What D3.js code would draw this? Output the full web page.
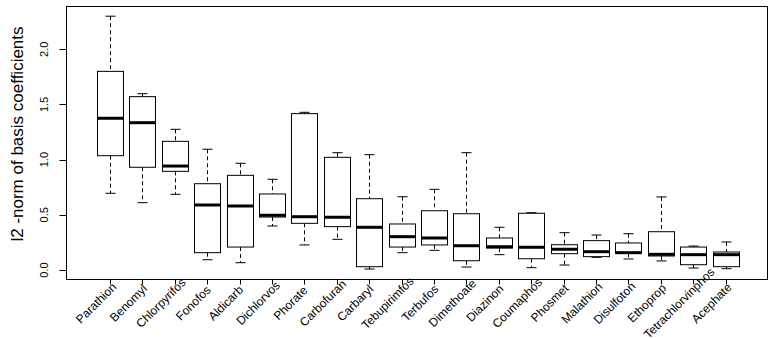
<!DOCTYPE html>
<html>
<head>
    <title>Boxplot</title>
    <script src="https://cdn.jsdelivr.net/npm/d3@7" type="text/javascript"></script>
    <style type="text/css">
        body { margin: 0; background: #fff; }
        text { font-family: "Liberation Sans", Arial, sans-serif; }
    </style>
</head>
<body>
<div id="chart"></div>
<script type="text/javascript">
    // data
    var categories = ["Parathion", "Benomyl", "Chlorpyrifos", "Fonofos", "Aldicarb", "Dichlorvos",
        "Phorate", "Carbofuran", "Carbaryl", "Tebupirimfos", "Terbufos", "Dimethoate", "Diazinon",
        "Coumaphos", "Phosmet", "Malathion", "Disulfoton", "Ethoprop", "Tetrachlorvinphos", "Acephate"];
    var lowerWhisker = [0.695, 0.61, 0.686, 0.093, 0.066, 0.399, 0.227, 0.278, 0.009, 0.157,
        0.178, 0.027, 0.139, 0.021, 0.045, 0.115, 0.10, 0.082, 0.018, 0.012];
    var q1 = [1.036, 0.931, 0.894, 0.157, 0.208, 0.48, 0.423, 0.393, 0.03, 0.208,
        0.227, 0.084, 0.199, 0.102, 0.148, 0.121, 0.151, 0.127, 0.048, 0.03];
    var median = [1.375, 1.335, 0.942, 0.589, 0.58, 0.496, 0.483, 0.478, 0.387, 0.302,
        0.29, 0.22, 0.211, 0.206, 0.188, 0.166, 0.157, 0.142, 0.139, 0.139];
    var q3 = [1.80, 1.571, 1.166, 0.782, 0.858, 0.689, 1.417, 1.021, 0.646, 0.417,
        0.537, 0.51, 0.29, 0.514, 0.229, 0.266, 0.245, 0.347, 0.208, 0.163];
    var upperWhisker = [2.30, 1.598, 1.275, 1.094, 0.967, 0.822, 1.429, 1.063, 1.045, 0.664,
        0.731, 1.063, 0.387, 0.519, 0.338, 0.317, 0.329, 0.662, 0.217, 0.254];
    var yTicks = [0, 0.5, 1.0, 1.5, 2.0];

    var rows = categories.map(function(c, i) {
        return {name: c, lo: lowerWhisker[i], q1: q1[i], med: median[i], q3: q3[i], hi: upperWhisker[i]};
    });

    var width = 776, height = 338;
    var frame = {left: 66.5, right: 767.5, top: 6.5, bottom: 279.5};

    var svg = d3.select('#chart').append('svg')
        .attr('width', width)
        .attr('height', height);

    var x = d3.scalePoint().domain(categories).range([110, 725.5]);
    var y = d3.scaleLinear().domain([0, 2]).range([270, 49.3]);
    var boxW = 26, capW = 10;

    // plot frame
    svg.append('rect')
        .attr('x', frame.left).attr('y', frame.top)
        .attr('width', frame.right - frame.left).attr('height', frame.bottom - frame.top)
        .attr('fill', 'none').attr('stroke', '#000').attr('stroke-width', 1);

    var g = svg.selectAll('g.box').data(rows).enter().append('g')
        .attr('class', 'box')
        .attr('transform', function(d) { return 'translate(' + Math.round(x(d.name)) + ',0)'; });

    // whiskers (dashed)
    g.append('line')
        .attr('x1', 0.5).attr('x2', 0.5)
        .attr('y1', function(d) { return y(d.hi); }).attr('y2', function(d) { return y(d.q3); })
        .attr('stroke', '#000').attr('stroke-dasharray', '4,3');
    g.append('line')
        .attr('x1', 0.5).attr('x2', 0.5)
        .attr('y1', function(d) { return y(d.q1); }).attr('y2', function(d) { return y(d.lo); })
        .attr('stroke', '#000').attr('stroke-dasharray', '4,3');
    // caps
    g.append('line')
        .attr('x1', -capW / 2 + 0.5).attr('x2', capW / 2 + 0.5)
        .attr('y1', function(d) { return y(d.hi); }).attr('y2', function(d) { return y(d.hi); })
        .attr('stroke', '#000');
    g.append('line')
        .attr('x1', -capW / 2 + 0.5).attr('x2', capW / 2 + 0.5)
        .attr('y1', function(d) { return y(d.lo); }).attr('y2', function(d) { return y(d.lo); })
        .attr('stroke', '#000');
    // box
    g.append('rect')
        .attr('x', -boxW / 2 + 0.5)
        .attr('y', function(d) { return y(d.q3); })
        .attr('width', boxW)
        .attr('height', function(d) { return y(d.q1) - y(d.q3); })
        .attr('fill', '#fff').attr('stroke', '#000');
    // median
    g.append('line')
        .attr('x1', -boxW / 2 + 0.5).attr('x2', boxW / 2 + 0.5)
        .attr('y1', function(d) { return y(d.med); }).attr('y2', function(d) { return y(d.med); })
        .attr('stroke', '#000').attr('stroke-width', 3);

    // y axis
    var yAxis = svg.append('g');
    yAxis.selectAll('line').data(yTicks).enter().append('line')
        .attr('x1', frame.left - 7).attr('x2', frame.left)
        .attr('y1', function(d) { return Math.round(y(d)) + 0.5; })
        .attr('y2', function(d) { return Math.round(y(d)) + 0.5; })
        .attr('stroke', '#000');
    yAxis.selectAll('text').data(yTicks).enter().append('text')
        .attr('transform', function(d) { return 'translate(48,' + y(d) + ') rotate(-90)'; })
        .attr('text-anchor', 'middle')
        .attr('fill', '#000')
        .style('font-size', '11px')
        .text(function(d) { return d3.format('.1f')(d); });

    svg.append('text')
        .attr('transform', 'translate(23,' + 134 + ') rotate(-90)')
        .attr('text-anchor', 'middle')
        .attr('fill', '#000')
        .style('font-size', '17px')
        .text('l2 -norm of basis coefficients');

    // x axis, labels centred below each tick and turned 45 degrees
    var xAxis = svg.append('g');
    xAxis.selectAll('line').data(categories).enter().append('line')
        .attr('x1', function(d) { return Math.round(x(d)) + 0.5; })
        .attr('x2', function(d) { return Math.round(x(d)) + 0.5; })
        .attr('y1', frame.bottom).attr('y2', frame.bottom + 5)
        .attr('stroke', '#000');
    xAxis.selectAll('text').data(categories).enter().append('text')
        .attr('transform', function(d) { return 'translate(' + (x(d) - 14) + ',303) rotate(-45)'; })
        .attr('text-anchor', 'middle')
        .attr('dy', '0.35em')
        .attr('fill', '#000')
        .style('font-size', '12px')
        .text(function(d) { return d; });
</script>
</body>
</html>
